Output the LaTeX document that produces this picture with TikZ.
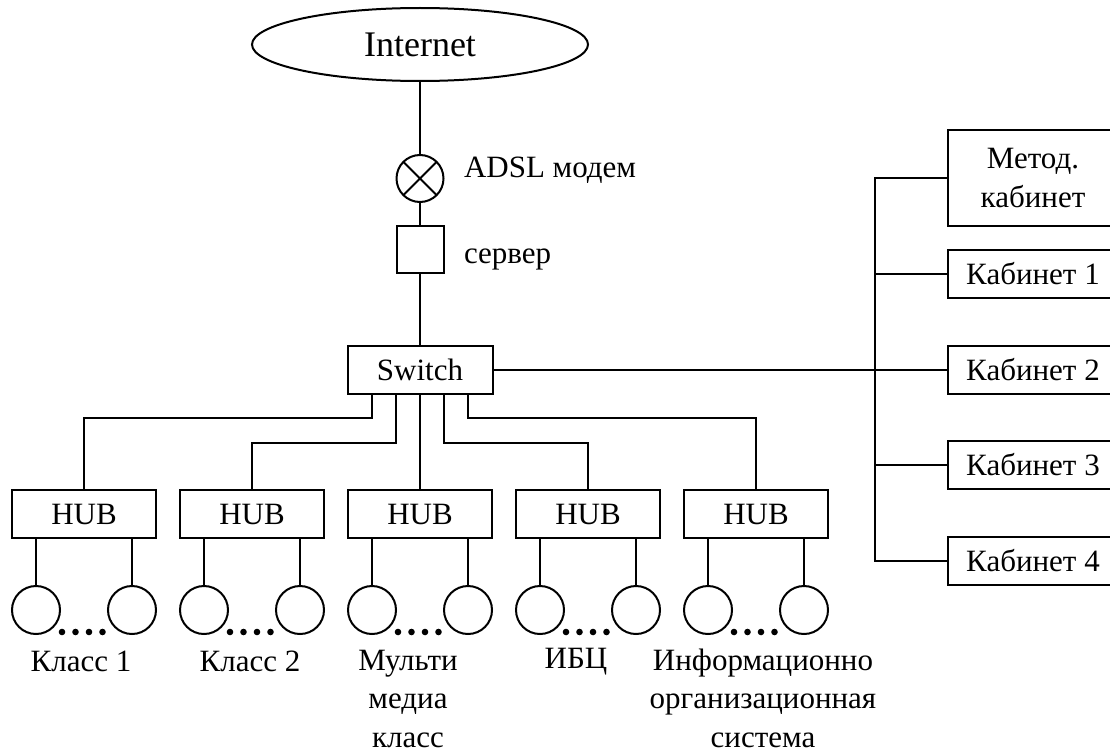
\documentclass[tikz,border=0pt]{standalone}
\usepackage{fontspec}
\setmainfont{Liberation Serif}
\usetikzlibrary{shapes.geometric}

\begin{document}
\begin{tikzpicture}[x=1pt,y=-1pt,line width=2pt,
    font=\fontsize{31}{38.5}\selectfont,
    box/.style={draw,inner sep=0pt,minimum width=144pt,minimum height=48pt},
    room/.style={draw,inner sep=0pt,minimum width=170pt,minimum height=48pt},
    pc/.style={draw,circle,inner sep=0pt,minimum size=48pt},
    lbl/.style={align=center,anchor=base,inner sep=0pt}]
    \path[use as bounding box,clip] (0,0) rectangle (1110,752);

    %% uplink
    \node (inet) at (420,44.5) [draw,ellipse,inner sep=0pt,minimum width=336pt,
      minimum height=73pt,font=\fontsize{36}{40}\selectfont] {Internet};
    \node (mod) at (420,178.5) [draw,circle,inner sep=0pt,minimum size=47pt,
      path picture={\draw (path picture bounding box.north west) -- (path picture bounding box.south east)
        (path picture bounding box.south west) -- (path picture bounding box.north east);}] {};
    \node (modlbl) at (463,177) [anchor=base west,inner sep=0pt] {ADSL модем};
    \node (srv) at (420,249.5) [draw,inner sep=0pt,minimum size=47pt] {};
    \node (srvlbl) at (463,263) [anchor=base west,inner sep=0pt] {сервер};
    \node (sw) at (420,370) [box,minimum width=145pt] {Switch};

    \draw (inet) -- (mod);
    \draw (mod) -- (srv);
    \draw (srv) -- (sw);

    %% cabinets
    \node (met) at (1033,178) [room,minimum height=96pt,align=center] {Метод.\\кабинет};
    \node (k1) at (1033,274) [room] {Кабинет 1};
    \node (k2) at (1033,370) [room] {Кабинет 2};
    \node (k3) at (1033,465) [room] {Кабинет 3};
    \node (k4) at (1033,561) [room] {Кабинет 4};

    \draw (sw) -- (k2);
    \draw (met.west) -- ++(-72,0) |- (k4.west);
    \draw (k1.west) -- ++(-72,0);
    \draw (k3.west) -- ++(-72,0);

    %% hubs
    \node (h1) at (84,514) [box] {HUB};
    \node (h2) at (252,514) [box] {HUB};
    \node (h3) at (420,514) [box] {HUB};
    \node (h4) at (588,514) [box] {HUB};
    \node (h5) at (756,514) [box] {HUB};

    \draw ([xshift=-48pt]sw.south) -- ++(0,23) -| (h1.north);
    \draw ([xshift=-24pt]sw.south) -- ++(0,48) -| (h2.north);
    \draw (sw) -- (h3);
    \draw ([xshift=24pt]sw.south) -- ++(0,48) -| (h4.north);
    \draw ([xshift=48pt]sw.south) -- ++(0,23) -| (h5.north);

    %% computers
    \node (p1a) at (36,610) [pc] {};
    \node (p1b) at (132,610) [pc] {};
    \node (p2a) at (204,610) [pc] {};
    \node (p2b) at (300,610) [pc] {};
    \node (p3a) at (372,610) [pc] {};
    \node (p3b) at (468,610) [pc] {};
    \node (p4a) at (540,610) [pc] {};
    \node (p4b) at (636,610) [pc] {};
    \node (p5a) at (708,610) [pc] {};
    \node (p5b) at (804,610) [pc] {};

    \draw ([xshift=-48pt]h1.south) -- (p1a);
    \draw ([xshift=48pt]h1.south) -- (p1b);
    \draw ([xshift=-48pt]h2.south) -- (p2a);
    \draw ([xshift=48pt]h2.south) -- (p2b);
    \draw ([xshift=-48pt]h3.south) -- (p3a);
    \draw ([xshift=48pt]h3.south) -- (p3b);
    \draw ([xshift=-48pt]h4.south) -- (p4a);
    \draw ([xshift=48pt]h4.south) -- (p4b);
    \draw ([xshift=-48pt]h5.south) -- (p5a);
    \draw ([xshift=48pt]h5.south) -- (p5b);

    %% dots
    \fill (62,632) circle (3.3pt) (75.5,632) circle (3.3pt) (89,632) circle (3.3pt) (102.5,632) circle (3.3pt);
    \fill (230,632) circle (3.3pt) (243.5,632) circle (3.3pt) (257,632) circle (3.3pt) (270.5,632) circle (3.3pt);
    \fill (398,632) circle (3.3pt) (411.5,632) circle (3.3pt) (425,632) circle (3.3pt) (438.5,632) circle (3.3pt);
    \fill (566,632) circle (3.3pt) (579.5,632) circle (3.3pt) (593,632) circle (3.3pt) (606.5,632) circle (3.3pt);
    \fill (734,632) circle (3.3pt) (747.5,632) circle (3.3pt) (761,632) circle (3.3pt) (774.5,632) circle (3.3pt);

    %% labels (base = last line)
    \node (c1) at (81,671) [lbl] {Класс 1};
    \node (c2) at (250,671) [lbl] {Класс 2};
    \node (c3) at (408,747) [lbl] {Мульти\\медиа\\класс};
    \node (c4) at (576,668) [lbl] {ИБЦ};
    \node (c5) at (763,747) [lbl] {Информационно\\организационная\\система};
  \end{tikzpicture}
\end{document}
